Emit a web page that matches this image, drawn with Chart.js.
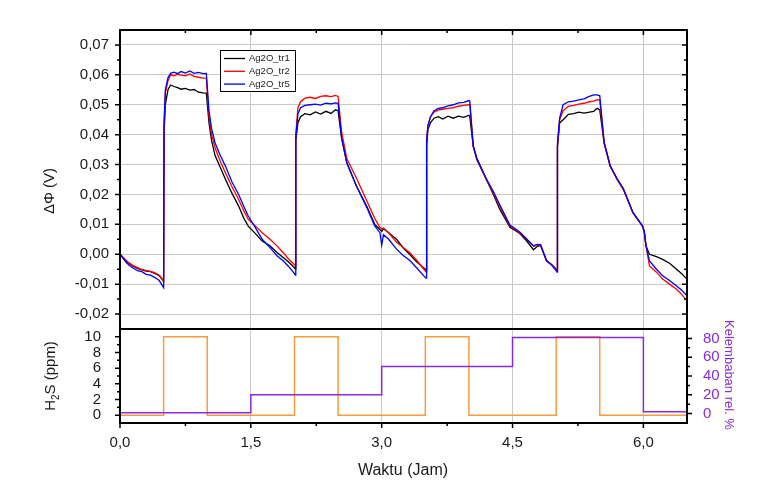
<!DOCTYPE html>
<html>
<head>
<meta charset="utf-8">
<script src="https://cdn.jsdelivr.net/npm/chart.js@4.4.1/dist/chart.umd.min.js"></script>
<style>
  html, body { margin: 0; padding: 0; background: #fff; }
  #wrap { position: relative; width: 769px; height: 503px; }
  #wrap canvas { position: absolute; left: 0; top: 0; }
</style>
</head>
<body>
<div id="wrap">
  <canvas id="topChart" width="769" height="503"></canvas>
  <canvas id="bottomChart" width="769" height="503"></canvas>
</div>
<script>
// ── Data ──────────────────────────────────────────────────────
const times = [
  0.00, 0.05, 0.10, 0.15, 0.20, 0.25, 0.30, 0.35, 0.40, 0.45, 0.50, 0.505, 0.52, 0.55, 0.58, 0.62, 0.66, 0.70, 0.75, 0.80,
  0.85, 0.90, 0.95, 0.99, 1.02, 1.05, 1.09, 1.15, 1.21, 1.28, 1.36, 1.42, 1.47, 1.55, 1.63, 1.72, 1.80, 1.87, 1.93, 2.00,
  2.01, 2.015, 2.04, 2.07, 2.12, 2.18, 2.24, 2.30, 2.36, 2.42, 2.47, 2.50, 2.54, 2.60, 2.71, 2.83, 2.92, 2.98, 3.00, 3.02,
  3.08, 3.17, 3.25, 3.32, 3.40, 3.50, 3.51, 3.515, 3.53, 3.56, 3.60, 3.65, 3.70, 3.76, 3.82, 3.88, 3.94, 4.00, 4.01, 4.05,
  4.09, 4.20, 4.28, 4.355, 4.47, 4.58, 4.66, 4.74, 4.78, 4.82, 4.89, 4.95, 5.00, 5.01, 5.015, 5.04, 5.08, 5.14, 5.20, 5.26,
  5.32, 5.38, 5.43, 5.47, 5.50, 5.55, 5.62, 5.70, 5.77, 5.88, 5.99, 6.01, 6.03, 6.07, 6.15, 6.22, 6.30, 6.38, 6.44, 6.50
];
const tr1 = [
  0.0000, -0.0015, -0.0030, -0.0040, -0.0047, -0.0052, -0.0056, -0.0058, -0.0064, -0.0072, -0.0090, 0.0400, 0.0500, 0.0550, 0.0566, 0.0561, 0.0557, 0.0552, 0.0555, 0.0549,
  0.0551, 0.0542, 0.0540, 0.0539, 0.0440, 0.0380, 0.0330, 0.0290, 0.0250, 0.0206, 0.0161, 0.0120, 0.0094, 0.0070, 0.0044, 0.0028, 0.0006, -0.0011, -0.0025, -0.0045,
  -0.0050, 0.0380, 0.0440, 0.0460, 0.0470, 0.0466, 0.0476, 0.0469, 0.0478, 0.0471, 0.0483, 0.0480, 0.0390, 0.0306, 0.0228, 0.0160, 0.0100, 0.0083, 0.0076, 0.0085,
  0.0072, 0.0050, 0.0020, 0.0000, -0.0025, -0.0050, -0.0055, 0.0360, 0.0417, 0.0440, 0.0455, 0.0460, 0.0452, 0.0462, 0.0455, 0.0462, 0.0458, 0.0465, 0.0460, 0.0360,
  0.0317, 0.0250, 0.0200, 0.0150, 0.0090, 0.0070, 0.0045, 0.0015, 0.0025, 0.0030, -0.0022, -0.0035, -0.0050, -0.0055, 0.0360, 0.0439, 0.0450, 0.0468, 0.0470, 0.0475,
  0.0472, 0.0475, 0.0478, 0.0488, 0.0483, 0.0372, 0.0294, 0.0250, 0.0217, 0.0139, 0.0094, 0.0075, 0.0028, 0.0000, -0.0008, -0.0017, -0.0030, -0.0050, -0.0065, -0.0083
];
const tr2 = [
  0.0000, -0.0015, -0.0028, -0.0038, -0.0045, -0.0051, -0.0055, -0.0057, -0.0062, -0.0070, -0.0088, 0.0430, 0.0540, 0.0580, 0.0600, 0.0597, 0.0602, 0.0599, 0.0597, 0.0603,
  0.0595, 0.0592, 0.0589, 0.0589, 0.0460, 0.0400, 0.0356, 0.0310, 0.0272, 0.0228, 0.0183, 0.0145, 0.0117, 0.0095, 0.0072, 0.0050, 0.0028, 0.0006, -0.0015, -0.0035,
  -0.0038, 0.0400, 0.0490, 0.0510, 0.0522, 0.0525, 0.0521, 0.0528, 0.0530, 0.0527, 0.0531, 0.0528, 0.0410, 0.0320, 0.0255, 0.0178, 0.0120, 0.0089, 0.0085, 0.0088,
  0.0072, 0.0040, 0.0022, 0.0006, -0.0020, -0.0056, -0.0060, 0.0380, 0.0430, 0.0460, 0.0475, 0.0483, 0.0485, 0.0488, 0.0490, 0.0495, 0.0498, 0.0500, 0.0500, 0.0360,
  0.0320, 0.0250, 0.0205, 0.0160, 0.0094, 0.0072, 0.0050, 0.0028, 0.0028, 0.0033, -0.0022, -0.0035, -0.0050, -0.0055, 0.0360, 0.0450, 0.0480, 0.0495, 0.0498, 0.0502,
  0.0505, 0.0510, 0.0512, 0.0517, 0.0515, 0.0372, 0.0294, 0.0250, 0.0217, 0.0139, 0.0094, 0.0075, 0.0028, -0.0039, -0.0060, -0.0083, -0.0100, -0.0117, -0.0135, -0.0156
];
const tr5 = [
  0.0000, -0.0020, -0.0036, -0.0046, -0.0055, -0.0058, -0.0067, -0.0070, -0.0078, -0.0088, -0.0112, 0.0440, 0.0550, 0.0590, 0.0605, 0.0609, 0.0604, 0.0611, 0.0606, 0.0613,
  0.0605, 0.0608, 0.0604, 0.0605, 0.0480, 0.0420, 0.0372, 0.0330, 0.0294, 0.0244, 0.0200, 0.0160, 0.0128, 0.0090, 0.0050, 0.0022, -0.0005, -0.0022, -0.0040, -0.0065,
  -0.0070, 0.0390, 0.0470, 0.0490, 0.0498, 0.0500, 0.0502, 0.0499, 0.0505, 0.0503, 0.0506, 0.0505, 0.0390, 0.0306, 0.0228, 0.0156, 0.0095, 0.0072, 0.0030, 0.0065,
  0.0050, 0.0017, -0.0005, -0.0020, -0.0045, -0.0078, -0.0080, 0.0380, 0.0430, 0.0460, 0.0480, 0.0488, 0.0490, 0.0496, 0.0500, 0.0506, 0.0508, 0.0514, 0.0512, 0.0362,
  0.0322, 0.0252, 0.0210, 0.0165, 0.0098, 0.0075, 0.0052, 0.0028, 0.0033, 0.0032, -0.0022, -0.0037, -0.0055, -0.0060, 0.0370, 0.0455, 0.0500, 0.0510, 0.0512, 0.0516,
  0.0520, 0.0528, 0.0533, 0.0533, 0.0530, 0.0375, 0.0296, 0.0252, 0.0220, 0.0140, 0.0094, 0.0078, 0.0028, -0.0022, -0.0050, -0.0072, -0.0088, -0.0106, -0.0120, -0.0139
];

// gas pulses and humidity steps (value holds until the next time)
const h2sTimes = [0, 0.5, 1.0, 2.0, 2.5, 3.5, 4.0, 5.0, 5.5, 6.5];
const h2sPpm   = [0, 10, 0, 10, 0, 10, 0, 10, 0, 0];
const rhTimes  = [0, 1.5, 3.0, 4.5, 6.0, 6.5];
const rhPct    = [1, 20, 50, 81, 2, 0.5];

// tick labels
const dPhiTicks = [-0.02, -0.01, 0.00, 0.01, 0.02, 0.03, 0.04, 0.05, 0.06, 0.07];
const timeTicks = [0, 1.5, 3.0, 4.5, 6.0];
const ppmTicks  = [0, 2, 4, 6, 8, 10];
const rhTicks   = [0, 20, 40, 60, 80];

// ── Layout / style ───────────────────────────────────────────
const L = 120, R = 687, T = 30, M = 329, B = 423;
const GRID = '#c8c8c8';
const TXT = '#1a1a1a';
const PURPLE = '#8a2be2';
const ORANGE = '#ff9a3c';
const FONT = "'Liberation Sans', Arial, sans-serif";
const tickFont = { family: FONT, size: 15 };

const comma = (v, d) => v.toFixed(d).replace('.', ',');
const setTicks = list => scale => { scale.ticks = list.map(v => ({ value: v })); };
const mids = (list, step, max) => list.map(v => v + step).filter(v => v < max - 1e-9);

function vTicks(ctx, scale, values, x, len) {
  values.forEach(v => { const y = scale.getPixelForValue(v); ctx.moveTo(x, y); ctx.lineTo(x + len, y); });
}
function hTicks(ctx, scale, values, y, len) {
  values.forEach(v => { const x = scale.getPixelForValue(v); ctx.moveTo(x, y); ctx.lineTo(x, y + len); });
}

const series = [
  { label: 'Ag2O_tr1', values: tr1, color: '#000000', order: 3 },
  { label: 'Ag2O_tr2', values: tr2, color: '#ff0000', order: 2 },
  { label: 'Ag2O_tr5', values: tr5, color: '#0000ff', order: 1 },
];

// ── Top panel: ΔΦ ────────────────────────────────────────────
new Chart(document.getElementById('topChart'), {
  type: 'line',
  data: {
    datasets: series.map(s => ({
      label: s.label,
      data: times.map((t, i) => ({ x: t, y: s.values[i] })),
      borderColor: s.color,
      borderWidth: 1.3,
      pointRadius: 0,
      tension: 0,
      order: s.order,
    }))
  },
  options: {
    responsive: false,
    animation: false,
    layout: { padding: { left: 0, right: 769 - R, top: T, bottom: 503 - M } },
    plugins: { legend: { display: false }, tooltip: { enabled: false } },
    scales: {
      x: {
        type: 'linear', min: 0, max: 6.5,
        afterBuildTicks: setTicks(timeTicks),
        afterFit: s => { s.height = 0; },
        ticks: { display: false },
        grid: { color: GRID, drawTicks: false },
        border: { display: false }
      },
      y: {
        min: -0.025, max: 0.075,
        afterBuildTicks: setTicks(dPhiTicks),
        afterFit: s => { s.width = L; },
        ticks: { color: TXT, font: tickFont, padding: 11, autoSkip: false, callback: v => comma(v, 2) },
        grid: { color: GRID, drawTicks: false },
        border: { display: false }
      }
    }
  },
  plugins: [{
    id: 'frame-top',
    afterDraw(chart) {
      const { ctx, chartArea: { left, right, top, bottom }, scales: { x, y } } = chart;
      ctx.save();
      ctx.strokeStyle = '#000';
      ctx.lineWidth = 1.5;
      ctx.beginPath();
      const yMinor = mids(dPhiTicks, 0.005, 0.075);
      vTicks(ctx, y, dPhiTicks, left, -5);
      vTicks(ctx, y, yMinor, left, -3);
      vTicks(ctx, y, dPhiTicks, right, -5);
      vTicks(ctx, y, yMinor, right, -3);
      hTicks(ctx, x, timeTicks.slice(1), top, 5);
      hTicks(ctx, x, mids(timeTicks, 0.75, 6.5), top, 3);
      ctx.stroke();
      ctx.lineWidth = 2;
      ctx.strokeRect(left, top, right - left, bottom - top);

      // legend
      const lx = 220, ly = 50, lw = 75, lh = 41;
      ctx.fillStyle = '#fff';
      ctx.fillRect(lx, ly, lw, lh);
      ctx.lineWidth = 1;
      ctx.strokeRect(lx + 0.5, ly + 0.5, lw, lh);
      ctx.font = `9.5px ${FONT}`;
      ctx.textBaseline = 'middle';
      chart.data.datasets.forEach((ds, i) => {
        const yy = ly + 8.5 + i * 12.8;
        ctx.strokeStyle = ds.borderColor;
        ctx.lineWidth = 1.3;
        ctx.beginPath(); ctx.moveTo(lx + 4, yy); ctx.lineTo(lx + 25, yy); ctx.stroke();
        ctx.fillStyle = TXT;
        ctx.fillText(ds.label, lx + 29, yy);
      });

      // axis title
      ctx.translate(50, 191);
      ctx.rotate(-Math.PI / 2);
      ctx.font = `15px ${FONT}`;
      ctx.textAlign = 'center';
      ctx.fillStyle = TXT;
      ctx.fillText('ΔΦ (V)', 0, 0);
      ctx.restore();
    }
  }]
});

// ── Bottom panel: H2S and humidity ───────────────────────────
new Chart(document.getElementById('bottomChart'), {
  type: 'line',
  data: {
    datasets: [{
      label: 'H2S',
      data: h2sTimes.map((t, i) => ({ x: t, y: h2sPpm[i] })),
      borderColor: ORANGE,
      borderWidth: 1.5,
      pointRadius: 0,
      stepped: 'before',
      yAxisID: 'y',
      order: 2,
    }, {
      label: 'RH',
      data: rhTimes.map((t, i) => ({ x: t, y: rhPct[i] })),
      borderColor: PURPLE,
      borderWidth: 1.5,
      pointRadius: 0,
      stepped: 'before',
      yAxisID: 'y2',
      order: 1,
    }]
  },
  options: {
    responsive: false,
    animation: false,
    layout: { padding: { left: 0, right: 0, top: M, bottom: 0 } },
    plugins: { legend: { display: false }, tooltip: { enabled: false } },
    scales: {
      x: {
        type: 'linear', min: 0, max: 6.5,
        afterBuildTicks: setTicks(timeTicks),
        afterFit: s => { s.height = 503 - B; },
        ticks: { color: TXT, font: tickFont, padding: 11, autoSkip: false, callback: v => comma(v, 1) },
        grid: { color: GRID, drawTicks: false },
        border: { display: false }
      },
      y: {
        position: 'left', min: -1, max: 11,
        afterBuildTicks: setTicks(ppmTicks),
        afterFit: s => { s.width = L; },
        ticks: { color: TXT, font: tickFont, padding: 11, autoSkip: false, callback: v => String(v) },
        grid: { display: false },
        border: { display: false }
      },
      y2: {
        position: 'right', min: -10, max: 90,
        afterBuildTicks: setTicks(rhTicks),
        afterFit: s => { s.width = 769 - R; },
        ticks: { color: PURPLE, font: tickFont, padding: 8, autoSkip: false, callback: v => String(v) },
        grid: { display: false },
        border: { display: false }
      }
    }
  },
  plugins: [{
    id: 'frame-bottom',
    afterDraw(chart) {
      const { ctx, chartArea: { left, right, top, bottom }, scales: { x, y, y2 } } = chart;
      ctx.save();
      ctx.strokeStyle = '#000';
      ctx.lineWidth = 1.5;
      ctx.beginPath();
      hTicks(ctx, x, timeTicks, bottom, 5);
      hTicks(ctx, x, mids(timeTicks, 0.75, 6.5), bottom, 3);
      vTicks(ctx, y, ppmTicks, left, -5);
      vTicks(ctx, y, mids(ppmTicks, 1, 11), left, -3);
      vTicks(ctx, y2, rhTicks, right, 5);
      vTicks(ctx, y2, mids(rhTicks, 10, 90), right, 3);
      ctx.stroke();
      ctx.lineWidth = 2;
      ctx.strokeRect(left, top, right - left, bottom - top);

      ctx.fillStyle = TXT;
      ctx.font = `16px ${FONT}`;
      ctx.textAlign = 'center';
      ctx.textBaseline = 'middle';
      ctx.fillText('Waktu (Jam)', 403, 471);

      // H2S (ppm) with subscript
      ctx.save();
      ctx.translate(50, 376);
      ctx.rotate(-Math.PI / 2);
      ctx.textAlign = 'left';
      ctx.textBaseline = 'alphabetic';
      const big = `15px ${FONT}`, small = `10px ${FONT}`;
      ctx.font = big; const wH = ctx.measureText('H').width, wS = ctx.measureText('S (ppm)').width;
      ctx.font = small; const w2 = ctx.measureText('2').width;
      let cx = -(wH + w2 + wS) / 2;
      ctx.font = big; ctx.fillText('H', cx, 5); cx += wH;
      ctx.font = small; ctx.fillText('2', cx, 9); cx += w2;
      ctx.font = big; ctx.fillText('S (ppm)', cx, 5);
      ctx.restore();

      ctx.translate(729, 375);
      ctx.rotate(Math.PI / 2);
      ctx.font = `13px ${FONT}`;
      ctx.fillStyle = PURPLE;
      ctx.fillText('Kelembaban rel. %', 0, 0);
      ctx.restore();
    }
  }]
});
</script>
</body>
</html>
